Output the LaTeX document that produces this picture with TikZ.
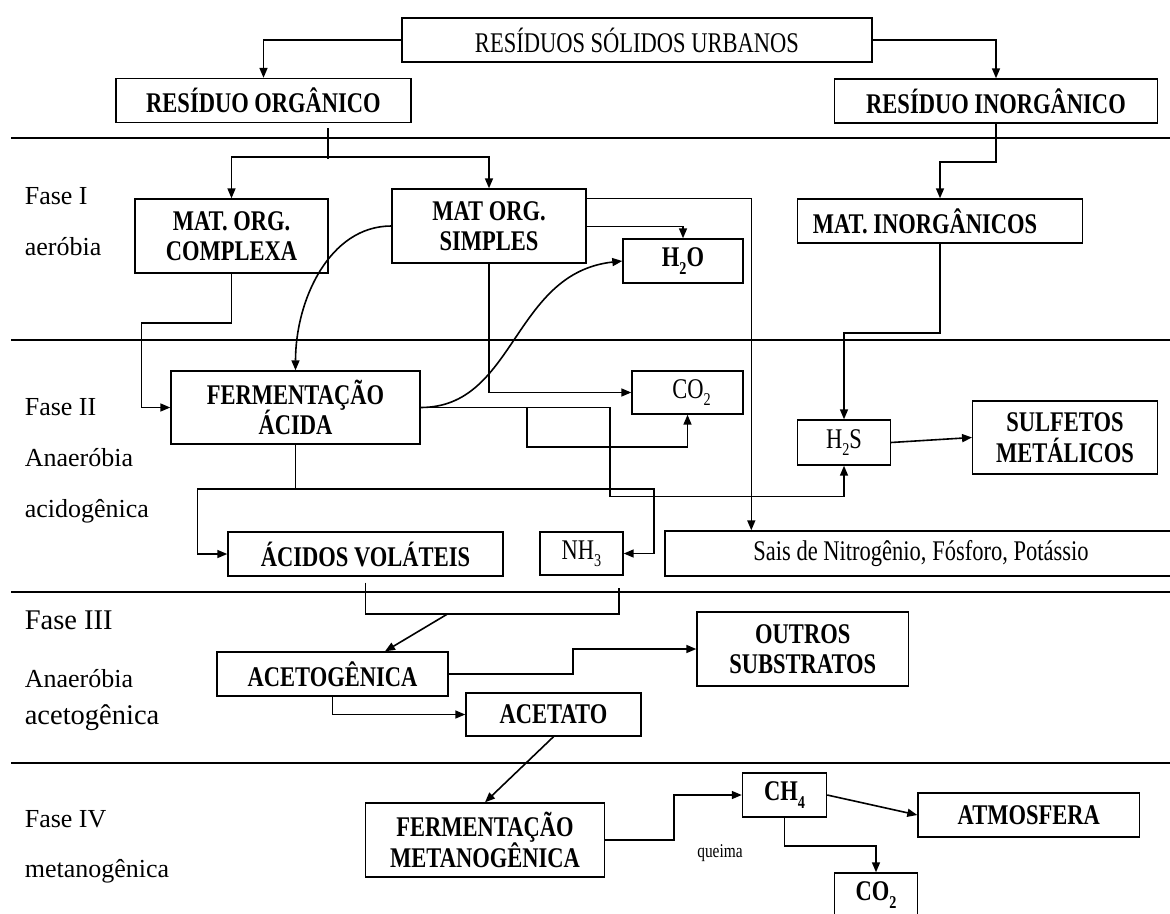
\documentclass[tikz,border=0pt]{standalone}
\usepackage{fontspec}
\setmainfont{Liberation Serif}
\newfontfamily\bxfont{Liberation Serif}[FakeStretch=0.79]
\usetikzlibrary{arrows.meta}
\newcommand{\sbs}[1]{\raisebox{-0.25em}{\fontsize{18}{18}\selectfont #1}}
\frenchspacing

\begin{document}
\begin{tikzpicture}[x=1pt, y=-1pt, line width=1.6pt,
  >={Triangle[length=10pt,width=8pt]},
  bx/.style={draw, line width=1.4pt, inner sep=0pt, align=center,
    font=\bxfont\fontsize{28.5}{30.5}\selectfont},
  bb/.style={bx, font=\bxfont\bfseries\fontsize{28.5}{30.5}\selectfont},
  fase/.style={anchor=base west, inner sep=0pt, font=\fontsize{26}{30}\selectfont},
  fasebig/.style={fase, font=\fontsize{28.5}{32}\selectfont},
  sep/.style={line width=2.8pt}]
  \useasboundingbox (0,0) rectangle (1170,913);
  % faixas
  \foreach \y in {138,340,592,763} \draw[sep] (11,\y) -- (1180,\y);
  \node[fase] (f1a) at (24,204) {Fase I};
  \node[fase] (f1b) at (24,255) {aeróbia};
  \node[fase] (f2a) at (24,415) {Fase II};
  \node[fase] (f2b) at (24,466) {Anaeróbia};
  \node[fase] (f2c) at (24,517) {acidogênica};
  \node[fasebig] (f3a) at (24,629) {Fase III};
  \node[fase] (f3b) at (24,687) {Anaeróbia};
  \node[fasebig] (f3c) at (24,724) {acetogênica};
  \node[fase] (f4a) at (24,827) {Fase IV};
  \node[fase] (f4b) at (24,877) {metanogênica};
  % topo
  \node[bx, minimum width=470, minimum height=44] (rsu) at (637,40) {RESÍDUOS SÓLIDOS URBANOS};
  \node[bb, minimum width=295, minimum height=44] (ro) at (263.5,100.5) {RESÍDUO ORGÂNICO};
  \node[bb, minimum width=322.5, minimum height=44] (ri) at (996,101) {RESÍDUO INORGÂNICO};
  % fase I
  \node[bb, minimum width=193, minimum height=74] (moc) at (231.5,236) {MAT. ORG.\\COMPLEXA};
  \node[bb, minimum width=194, minimum height=74] (mos) at (489,226) {MAT ORG.\\SIMPLES};
  \node[bb, minimum width=120, minimum height=44] (h2o) at (683,261) {H\sbs{2}O};
  \node[bb, minimum width=285.5, minimum height=44] (mi) at (940,221) {MAT. INORGÂNICOS\hspace*{30pt}};
  % fase II
  \node[bb, minimum width=249, minimum height=73] (fa) at (295.5,407.5) {FERMENTAÇÃO\\ÁCIDA};
  \node[bx, minimum width=111, minimum height=43] (co2a) at (687.5,392.5) {\hspace*{8pt}CO\sbs{2}};
  \node[bx, minimum width=92.5, minimum height=45] (h2s) at (844,442.5) {H\sbs{2}S};
  \node[bb, minimum width=184.5, minimum height=73] (sm) at (1065,437.5) {SULFETOS\\METÁLICOS};
  \node[bb, minimum width=275, minimum height=44] (av) at (365.5,554) {ÁCIDOS VOLÁTEIS};
  \node[bx, minimum width=83, minimum height=43] (nh3) at (581.5,553.5) {NH\sbs{3}};
  \node[bx, minimum width=512, minimum height=45] (sais) at (921,553.5) {Sais de Nitrogênio, Fósforo, Potássio};
  % fase III
  \node[bb, minimum width=231, minimum height=44] (ac) at (332.5,674) {ACETOGÊNICA};
  \node[bb, minimum width=211.5, minimum height=74] (os) at (802.75,649) {OUTROS\\SUBSTRATOS};
  \node[bb, minimum width=175, minimum height=43] (at) at (553.5,714.5) {ACETATO};
  % fase IV
  \node[bb, minimum width=239, minimum height=74] (fm) at (485,840) {FERMENTAÇÃO\\METANOGÊNICA};
  \node[bb, minimum width=84, minimum height=44] (ch4) at (784.5,795) {CH\sbs{4}};
  \node[bb, minimum width=221.5, minimum height=44] (atm) at (1028.75,815) {ATMOSFERA};
  \node[bb, minimum width=83, minimum height=44] (co2b) at (876,895) {CO\sbs{2}};
  \node[inner sep=0pt, font=\bxfont\fontsize{19.5}{22}\selectfont] (qm) at (720,853) {queima};
  % setas topo
  \draw[->] (rsu.west) -| (ro.north);
  \draw[->] (rsu.east) -| (ri.north);
  % setas fase I
  \coordinate (j0) at (328,128);
  \coordinate (j1) at (328,157);
  \draw (j0) -- ++(0,31);
  \draw[->] (j1) -| (moc.north);
  \draw[->] (j1) -| (mos.north);
  \draw[->] (ri.south) -- ++(0,38) -| (mi.north);
  \draw[->] ([yshift=-38pt]mos.north east) -| (h2o.north);
  \draw[->] ([yshift=-10pt]mos.north east) -| ([xshift=87pt]sais.north west);
  % setas fase II
  \draw[->] (moc.south) -- ++(0,49) -| ([xshift=-29pt]fa.west) -- (fa.west);
  \draw[->] (mos.west) .. controls +(-62,0) and +(0,-70) .. (fa.north);
  \draw[->] (fa.east) .. controls +(95,0) and +(-110,12) .. (h2o.west);
  \draw[->] (mos.south) |- (co2a.west);
  \draw[->] ([xshift=106pt]fa.east) -- ++(0,39.5) -| (co2a.south);
  \draw[->] (fa.east) -- ++(189,0) -- ++(0,89) -| (h2s.south);
  \draw[->] (mi.south) -- ++(0,89) -| (h2s.north);
  \draw[->] (h2s.east) -- (sm.west);
  \draw[->] (fa.south) -- ++(0,44) -| ([xshift=-30pt]av.west) -- (av.west);
  \draw[->] (fa.south) -- ++(0,44) -| ([xshift=30pt]nh3.east) -- (nh3.east);
  % setas fase III
  \draw ([yshift=-6pt]av.south) |- ([xshift=-5pt,yshift=-38pt]nh3.south east)
    -- ([xshift=-5pt,yshift=-12pt]nh3.south east);
  \draw[->] ([xshift=82.5pt,yshift=-37pt]av.south) -- ([xshift=52.5pt]ac.north);
  \draw[->] (ac.east) -- ++(124,0) |- (os.west);
  \draw[->] (ac.south) |- (at.west);
  % setas fase IV
  \draw[->] (at.south) -- (fm.north);
  \draw[->] (fm.east) -- ++(68.5,0) |- (ch4.west);
  \draw[->] (ch4.east) -- (atm.west);
  \draw[->] (ch4.south) -- ++(0,28) -| (co2b.north);
\end{tikzpicture}
\end{document}
